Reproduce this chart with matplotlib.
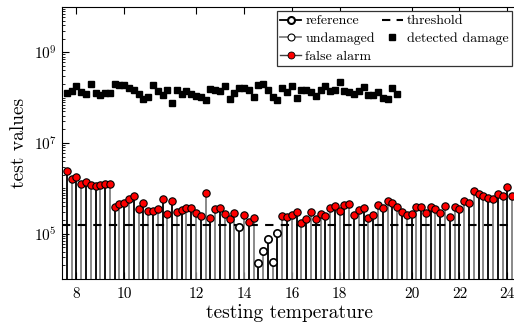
import numpy as np
import matplotlib
matplotlib.use("Agg")
import matplotlib.pyplot as plt
from matplotlib.lines import Line2D
from matplotlib.ticker import LogLocator, NullFormatter

plt.rcParams['font.family'] = 'serif'
plt.rcParams['font.serif'] = ['cmr10', 'DejaVu Serif']
plt.rcParams['mathtext.fontset'] = 'cm'
plt.rcParams['axes.formatter.use_mathtext'] = True

# log10 of the test value, one per test
test_log = [6.38, 6.20, 6.25, 6.09, 6.13, 6.07, 6.05, 6.07, 6.10, 6.10,
            5.58, 5.65, 5.68, 5.76, 5.83, 5.54, 5.67, 5.51, 5.51, 5.54,
            5.76, 5.43, 5.72, 5.48, 5.52, 5.56, 5.56, 5.46, 5.39, 5.90,
            5.35, 5.54, 5.56, 5.43, 5.32, 5.45, 5.15, 5.41, 5.25, 5.34,
            4.36, 4.62, 4.88, 4.37, 5.01, 5.39, 5.36, 5.41, 5.48, 5.23,
            5.32, 5.48, 5.32, 5.43, 5.38, 5.56, 5.62, 5.51, 5.63, 5.65,
            5.41, 5.52, 5.57, 5.34, 5.41, 5.63, 5.56, 5.72, 5.68, 5.59,
            5.47, 5.41, 5.43, 5.59, 5.59, 5.46, 5.59, 5.54, 5.46, 5.62,
            5.37, 5.59, 5.54, 5.72, 5.67, 5.95, 5.87, 5.83, 5.79, 5.76,
            5.87, 5.83, 6.04, 5.83]

# log10 of the detected damage values
damage_log = [8.10, 8.15, 8.26, 8.13, 8.08, 8.31, 8.11, 8.06, 8.11, 8.11,
              8.31, 8.27, 8.27, 8.21, 8.17, 8.09, 7.96, 8.02, 8.27, 8.15,
              8.06, 8.17, 7.88, 8.17, 8.07, 8.15, 8.07, 8.04, 8.01, 7.95,
              8.19, 8.18, 8.15, 8.26, 7.96, 8.10, 8.22, 8.22, 8.18, 8.02,
              8.27, 8.30, 8.17, 8.01, 7.95, 8.21, 8.13, 8.26, 7.99, 8.18,
              8.17, 8.13, 8.04, 8.18, 8.26, 8.15, 8.17, 8.35, 8.15, 8.13,
              8.08, 8.15, 8.23, 8.06, 8.06, 8.13, 7.99, 7.97, 8.21, 8.07]

threshold = 10 ** 5.19

tick_pos = [2, 12, 27, 37, 47, 57, 72, 82, 92]
tick_lab = ['8', '10', '12', '14', '16', '18', '20', '22', '24']

test_val = 10 ** np.array(test_log)
damage_val = 10 ** np.array(damage_log)
x = np.arange(len(test_val))
xd = np.arange(len(damage_val))

fig = plt.figure(figsize=(5.14, 3.29), dpi=100)
ax = fig.add_axes([0.1206, 0.152, 0.885, 0.8267])
ax.set_yscale('log')
ax.set_ylim(1e4, 1e10)
ax.set_xlim(-1, 94)

# stems: alternate black / gray
stem_col = ['black' if i % 2 == 0 else '#808080' for i in x]
ax.vlines(x, 1e4, test_val, colors=stem_col, lw=1.3, zorder=2)

alarm = test_val > threshold
ax.plot(x[alarm], test_val[alarm], 'o', ms=5.3, mfc='red', mec='black', mew=0.8, zorder=4)
ax.plot(x[~alarm], test_val[~alarm], 'o', ms=5.3, mfc='white', mec='black', mew=1.2, zorder=4)

ax.axhline(threshold, color='black', ls=(0, (4, 3.5)), lw=1.5, zorder=3)
ax.plot(xd, damage_val, 's', ms=4, color='black', zorder=4)

ax.set_xticks(tick_pos)
ax.set_xticklabels(tick_lab)
ax.set_yticks([1e5, 1e7, 1e9])
ax.set_yticklabels([r'$10^{5}$', r'$10^{7}$', r'$10^{9}$'])
ax.yaxis.set_minor_locator(LogLocator(base=10, subs=np.arange(1, 10), numticks=50))
ax.yaxis.set_minor_formatter(NullFormatter())
ax.tick_params(which='both', direction='in', top=True, right=False, labelsize=11)
ax.tick_params(which='major', length=5)
ax.tick_params(which='minor', length=2.5)
ax.tick_params(axis='x', pad=6)

ax.set_xlabel('testing temperature', fontsize=14, labelpad=2)
ax.set_ylabel('test values', fontsize=14, labelpad=4)

handles = [
    Line2D([], [], color='black', lw=1.3, marker='o', ms=5, mfc='white', mec='black', mew=1.5, markevery=[1]),
    Line2D([], [], color='#808080', lw=1.3, marker='o', ms=5, mfc='white', mec='black', mew=0.8, markevery=[1]),
    Line2D([], [], color='#404040', lw=1.0, marker='o', ms=5, mfc='red', mec='black', mew=0.6, markevery=[1]),
    Line2D([], [], color='black', lw=1.5, ls=(0, (4, 3))),
    Line2D([], [], color='black', ls='none', marker='s', ms=4),
]
labels = ['reference', 'undamaged', 'false alarm', 'threshold', 'detected damage']
leg = ax.legend(handles, labels, ncol=2, loc='upper right',
                bbox_to_anchor=(0.996, 0.966), bbox_transform=fig.transFigure,
                borderaxespad=0, fontsize=10, frameon=True, fancybox=False,
                framealpha=1, edgecolor='#333333', handlelength=1.5,
                handletextpad=0.3, columnspacing=0.5, labelspacing=0.35,
                borderpad=0.25)
leg.get_frame().set_linewidth(0.9)

fig.savefig('out.png', dpi=100)
